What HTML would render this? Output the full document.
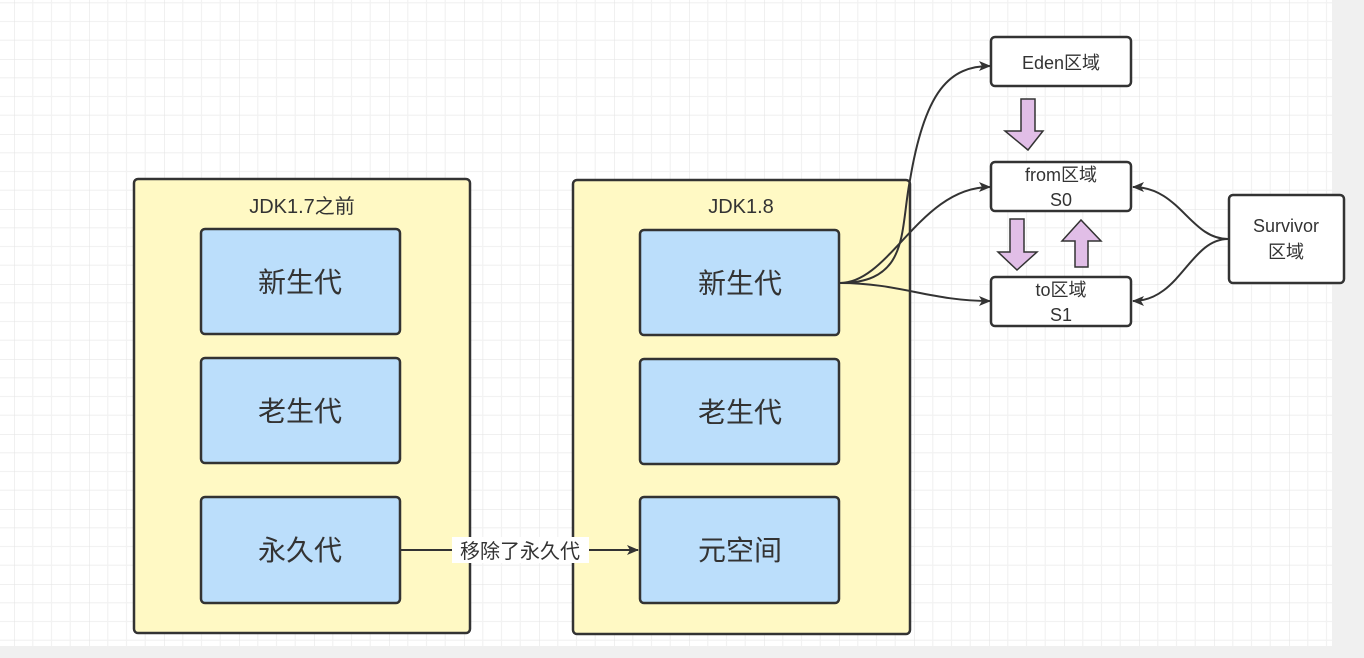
<!DOCTYPE html>
<html><head><meta charset="utf-8"><style>
html,body{margin:0;padding:0;background:#f0f0f0;}
svg{display:block;}
text{font-family:"Liberation Sans","Noto Sans CJK SC",sans-serif;fill:#333;}
</style></head><body>
<svg width="1364" height="658" xmlns="http://www.w3.org/2000/svg">
<defs>
<pattern id="g" x="14" y="59" width="75" height="75" patternUnits="userSpaceOnUse">
<path d="M18.75 0V75M37.5 0V75M56.25 0V75M0 18.75H75M0 37.5H75M0 56.25H75" stroke="#f2f2f2" stroke-width="1.2" fill="none"/>
<path d="M0 0V75M0 0H75" stroke="#e6e6e6" stroke-width="1.2" fill="none"/>
</pattern>
<marker id="a" markerWidth="12" markerHeight="10" refX="11" refY="5" orient="auto" markerUnits="userSpaceOnUse">
<path d="M0 0L12 5L0 10L3 5Z" fill="#333"/>
</marker>
</defs>
<rect x="0" y="0" width="1332" height="646" fill="#fff"/>
<rect x="0" y="0" width="1332" height="646" fill="url(#g)"/>
<g stroke="#333" stroke-width="2.5">
<rect x="134" y="179" width="336" height="454" rx="4" fill="#fff9c4"/>
<rect x="573" y="180" width="337" height="454" rx="4" fill="#fff9c4"/>
<g fill="#bbdefb">
<rect x="201" y="229" width="199" height="105" rx="4"/>
<rect x="201" y="358" width="199" height="105" rx="4"/>
<rect x="201" y="497" width="199" height="106" rx="4"/>
<rect x="640" y="230" width="199" height="105" rx="4"/>
<rect x="640" y="359" width="199" height="105" rx="4"/>
<rect x="640" y="497" width="199" height="106" rx="4"/>
</g>
<g fill="#fff">
<rect x="991" y="37" width="140" height="49" rx="4"/>
<rect x="991" y="162" width="140" height="49" rx="4"/>
<rect x="991" y="277" width="140" height="49" rx="4"/>
<rect x="1229" y="195" width="115" height="88" rx="4"/>
</g>
</g>
<g stroke="#333" stroke-width="2" fill="none">
<path d="M400 550H638" marker-end="url(#a)"/>
<path d="M840 283C910 283 900 230 910 180C925 90 950 66 990 66" marker-end="url(#a)"/>
<path d="M840 283C890 283 920 187 990 187" marker-end="url(#a)"/>
<path d="M840 283C900 283 930 301 990 301" marker-end="url(#a)"/>
<path d="M1228 239C1190 239 1180 187 1133 187" marker-end="url(#a)"/>
<path d="M1228 239C1190 239 1180 301 1133 301" marker-end="url(#a)"/>
</g>
<g fill="#e1bee7" stroke="#333" stroke-width="1.5">
<path d="M1022 99H1036V131H1044L1029 150L1006 131H1022Z" transform="translate(-1 0)"/>
<path d="M1010 219H1024V252H1037L1017 270L998 252H1010Z"/>
<path d="M1075 267H1088V241H1101L1081 220L1062 241H1075Z"/>
</g>
<rect x="452" y="537" width="137" height="26" fill="#fff"/>
<text x="520" y="558" font-size="20" text-anchor="middle">移除了永久代</text>
<g font-size="20" text-anchor="middle">
<text x="302" y="213">JDK1.7之前</text>
<text x="741" y="213">JDK1.8</text>
</g>
<g font-size="28" text-anchor="middle">
<text x="300" y="292">新生代</text>
<text x="300" y="421">老生代</text>
<text x="300" y="560">永久代</text>
<text x="740" y="293">新生代</text>
<text x="740" y="422">老生代</text>
<text x="740" y="560">元空间</text>
</g>
<g font-size="18" text-anchor="middle">
<text x="1061" y="69">Eden区域</text>
<text x="1061" y="181">from区域</text>
<text x="1061" y="206">S0</text>
<text x="1061" y="296">to区域</text>
<text x="1061" y="321">S1</text>
<text x="1286" y="232">Survivor</text>
<text x="1286" y="258">区域</text>
</g>
</svg>
</body></html>
